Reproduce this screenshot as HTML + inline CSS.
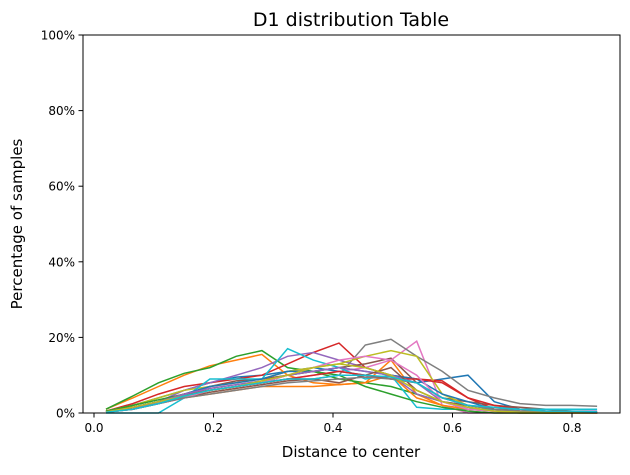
<!DOCTYPE html>
<html><head><meta charset="utf-8"><style>
body{margin:0;background:#fff;font-family:"Liberation Sans","DejaVu Sans",sans-serif}
svg text{font-family:"DejaVu Sans","Liberation Sans",sans-serif}
</style></head><body>
<svg id="chart" width="630" height="470" xmlns="http://www.w3.org/2000/svg">
<rect width="630" height="470" fill="#fff"/>
<text x="351" y="26" font-size="19" text-anchor="middle">D1 distribution Table</text>
<text x="351" y="457" font-size="15" text-anchor="middle">Distance to center</text>
<text transform="translate(22,224) rotate(-90)" font-size="15" text-anchor="middle">Percentage of samples</text>
<g id="lines"></g>
<g id="axes"></g>
<rect x="83" y="35" width="537" height="378" fill="none" stroke="#000" stroke-width="1"/>
</svg>
<script>
const xValues=[0.02,0.065,0.108,0.151,0.194,0.238,0.281,0.324,0.367,0.41,0.454,0.497,0.54,0.583,0.626,0.67,0.713,0.756,0.799,0.842];
const s1=[0.5,2,4,6,8,9.5,10,11,12,11,10,9,8,9,10,3,1,0.5,0.3,0.2];
const s2=[1,4,7,10,12.5,14,15.5,10,8,7.5,8,14,5,2,1,0.5,0.3,0.2,0.1,0];
const s3=[1,4.5,8,10.5,12,15,16.5,12,11,9,8,7,5,3,1.5,0.5,0,0,0,0];
const s4=[0.5,2.5,5,7,8,9,10,13,16,18.5,12,10,9,8.5,4,1,0.5,0,0,0];
const s5=[0.3,1.5,3,6,8,10,12,15,16,14,12,10,5,3,2,1,1,0.5,0.5,0.5];
const s6=[0.3,1.5,3,5,7,8.5,9,10,11,12,13,14.5,8,4,3,2,1.5,1,0.5,0.3];
const s7=[0.2,1,2.5,4.5,6,7,8,9,10,11,12,14,19,2,0,0,0,0,0,0];
const s8=[0.2,1,2.5,4.5,6,7,8,9,9,10,18,19.5,15,11,6,4,2.5,2,2,1.8];
const s9=[0.5,2,4,6,7,8,9,11,12,13,15,16.5,15,5,2,1,0.5,0.2,0,0];
const s10=[0,0,0,4,9,9,9,17,14,12,9,10,1.5,1,1,1,1,1,1,1];
const s11=[0.3,1.5,3,5,7,8,9,11,11,12,11,10,9,5,3,1,0.5,0.3,0.2,0.1];
const s12=[0.2,1,2.5,4,5,6,7,7,7,7.5,8,10,4,2,1,0.5,0,0,0,0];
const s13=[0.5,2,3.5,5,6,7,8,10,11,10,7,5,3,1.5,0.5,0,0,0,0,0];
const s14=[0.3,1.5,3,5,6,7,8,9,10,11,10,9,9,8,4,2,1,0.5,0.2,0];
const s15=[0.2,1,3,5,6.5,7.5,8.5,10,11,12,11,10,8,3,1,0.5,0.5,0.3,0.2,0.1];
const s16=[0.3,1,2.5,4,5.5,6.5,7.5,8.5,9,8,10,12,6,3,2,1,0.5,0.3,0.2,0.1];
const s17=[0.2,1,2.5,4,6,7,8,10,12,14,15,14,10,3,1,0.5,0.2,0.1,0,0];
const s18=[0.2,1,2.5,4,5,6,7,8,8.5,9,9.5,9,8,4,2,1,0.5,0.3,0.2,0.1];
const s19=[0.3,1.5,3,4.5,6,7,8.5,10,12,13,12,10,6,3,1.5,0.5,0.2,0.1,0,0];
const s20=[0.2,1,2.5,4.5,6,7,8,9,9,10,10,9.5,8,4,2,1.5,1,0.5,0.5,0.3];
const seriesList=[s1,s2,s3,s4,s5,s6,s7,s8,s9,s10,s11,s12,s13,s14,s15,s16,s17,s18,s19,s20];
const xTicks=[0,0.2,0.4,0.6,0.8];
const xTickLabels=["0.0","0.2","0.4","0.6","0.8"];
const yTicks=[0,20,40,60,80,100];
const yTickLabels=["0%","20%","40%","60%","80%","100%"];
const colors=["#1f77b4","#ff7f0e","#2ca02c","#d62728","#9467bd","#8c564b","#e377c2","#7f7f7f","#bcbd22","#17becf"];
const NS="http://www.w3.org/2000/svg";
function xs(v){return 94+v*597.5;}
function ys(v){return 413-v*3.78;}
const lg=document.getElementById('lines');
seriesList.forEach((s,i)=>{
  const p=document.createElementNS(NS,'polyline');
  p.setAttribute('points',s.map((v,j)=>xs(xValues[j]).toFixed(1)+','+ys(v).toFixed(1)).join(' '));
  p.setAttribute('fill','none');
  p.setAttribute('stroke',colors[i%10]);
  p.setAttribute('stroke-width','1.5');
  
  
  lg.appendChild(p);
});
const ax=document.getElementById('axes');
xTicks.forEach((t,i)=>{
  const l=document.createElementNS(NS,'line');
  l.setAttribute('x1',xs(t));l.setAttribute('x2',xs(t));l.setAttribute('y1',413);l.setAttribute('y2',417.5);l.setAttribute('stroke','#000');
  
  
  ax.appendChild(l);
  const tx=document.createElementNS(NS,'text');
  tx.setAttribute('x',xs(t));tx.setAttribute('y',432);tx.setAttribute('font-size','12');tx.setAttribute('text-anchor','middle');
  tx.textContent=xTickLabels[i];
  
  
  ax.appendChild(tx);
});
yTicks.forEach((t,i)=>{
  const l=document.createElementNS(NS,'line');
  l.setAttribute('x1',78.5);l.setAttribute('x2',83);l.setAttribute('y1',ys(t));l.setAttribute('y2',ys(t));l.setAttribute('stroke','#000');
  
  
  ax.appendChild(l);
  const tx=document.createElementNS(NS,'text');
  tx.setAttribute('x',75);tx.setAttribute('y',ys(t)+4.5);tx.setAttribute('font-size','12');tx.setAttribute('text-anchor','end');
  tx.textContent=yTickLabels[i];
  
  
  ax.appendChild(tx);
});
</script>
</body></html>
